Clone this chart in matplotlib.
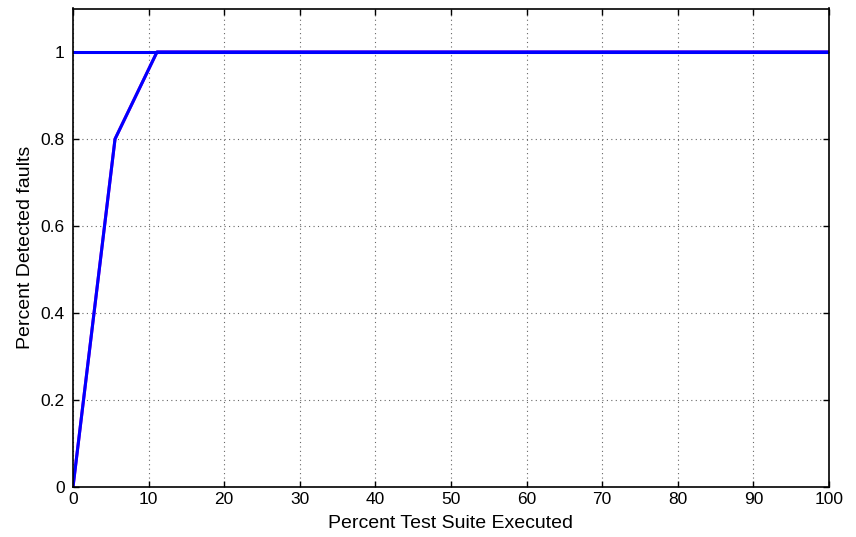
import matplotlib
matplotlib.use("Agg")
import matplotlib.pyplot as plt

x_pct = [0, 5.56, 11.11, 100]
y_tech = [0, 0.8, 1.0, 1.0]
x_opt = [0, 100]
y_opt = [1.0, 1.0]
xticks = [0, 10, 20, 30, 40, 50, 60, 70, 80, 90, 100]
yticks = [0, 0.2, 0.4, 0.6, 0.8, 1.0]
yticklabels = ["0", "0.2", "0.4", "0.6", "0.8", "1"]

plt.rcParams['font.family'] = ['Liberation Sans', 'DejaVu Sans']
fig = plt.figure(figsize=(8.56, 5.37), dpi=100)
ax = fig.add_axes([73/856, 1-487/537, (829-73)/856, (487-8.5)/537])
ax.plot(x_pct, y_tech, color='#d000d0', lw=2.2, zorder=3)
ax.plot(x_opt, y_opt, color='#0000ff', lw=2.2, zorder=4)
ax.plot(x_pct, y_tech, color='#0000ff', lw=2.2, zorder=5)
ax.set_xlim(0, 100)
ax.set_ylim(0, 1.1)
ax.set_xticks(xticks)
ax.set_yticks(yticks)
ax.set_yticklabels(yticklabels)
ax.grid(True, linestyle=(0, (1, 3)), color='#666666', lw=0.8)
ax.tick_params(direction='in', length=4, labelsize=12.5, top=True, right=True, width=1)
ax.tick_params(axis='y', pad=6)
for s in ax.spines.values():
    s.set_linewidth(1.2)
    s.set_zorder(6)
ax.set_xlabel("Percent Test Suite Executed", fontsize=14, labelpad=6)
ax.set_ylabel("Percent Detected faults", fontsize=14, labelpad=5)
fig.savefig("out.png", dpi=100)
